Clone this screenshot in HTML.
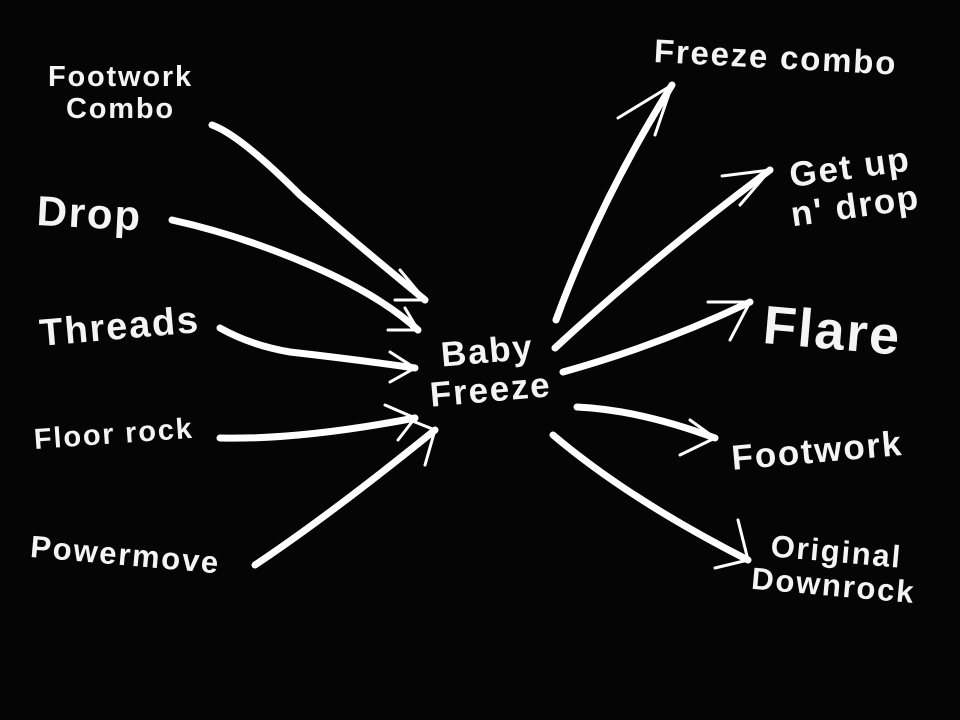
<!DOCTYPE html>
<html><head><meta charset="utf-8"><style>
html,body{margin:0;padding:0;background:#000;}
#c{position:relative;width:960px;height:720px;background:#050505;overflow:hidden;font-family:"Liberation Sans","DejaVu Sans",sans-serif;color:#f4f4f4;font-weight:bold;letter-spacing:1.8px;}
.t{position:absolute;white-space:nowrap;text-align:center;line-height:1.1;transform-origin:0 0;}
svg{position:absolute;left:0;top:0;}
</style></head><body><div id="c">
<svg width="960" height="720" fill="none" stroke="#fff" stroke-linecap="round" stroke-linejoin="round">
<g stroke-width="7">
<path d="M212 125 Q240 135 300 195 Q370 255 425 300"/>
<path d="M172 220 Q240 235 310 265 Q380 295 418 330"/>
<path d="M220 328 Q250 345 290 352 Q360 360 415 368"/>
<path d="M220 438 Q300 440 415 418"/>
<path d="M255 565 Q330 515 435 430"/>
<path d="M556 320 Q600 200 672 85"/>
<path d="M555 348 Q650 260 770 170"/>
<path d="M563 372 Q660 345 750 302"/>
<path d="M577 407 Q640 410 715 438"/>
<path d="M553 435 Q630 500 748 560"/>
</g>
<g stroke-width="3">
<path d="M395 300 L425 300 L400 270"/>
<path d="M388 330 L418 330 L405 308"/>
<path d="M390 352 L415 368 L390 382"/>
<path d="M385 405 L415 418 L398 440"/>
<path d="M410 420 L435 430 L425 465"/>
<path d="M618 118 L672 85 L655 135"/>
<path d="M722 176 L770 170 L740 205"/>
<path d="M708 302 L750 302 L730 340"/>
<path d="M690 420 L715 438 L680 455"/>
<path d="M738 520 L748 560 L715 568"/>
</g>
</svg>
<div class="t" style="left:48px;top:62px;font-size:29px;">Footwork<br>Combo</div>
<div class="t" style="left:38px;top:188px;font-size:42px;transform:rotate(3deg);">Drop</div>
<div class="t" style="left:38px;top:314px;font-size:38px;transform:rotate(-5deg);">Threads</div>
<div class="t" style="left:33px;top:425px;font-size:29px;transform:rotate(-4deg);">Floor rock</div>
<div class="t" style="left:32px;top:530px;font-size:31px;transform:rotate(5deg);">Powermove</div>
<div class="t" style="left:425px;top:338px;font-size:35px;transform:rotate(-5deg);">Baby<br>Freeze</div>
<div class="t" style="left:655px;top:33px;font-size:33px;transform:rotate(3deg);">Freeze combo</div>
<div class="t" style="left:783px;top:158px;font-size:35px;transform:rotate(-8deg);">Get up<br>n' drop</div>
<div class="t" style="left:766px;top:296px;font-size:54px;transform:rotate(5deg);">Flare</div>
<div class="t" style="left:730px;top:440px;font-size:35px;transform:rotate(-5deg);">Footwork</div>
<div class="t" style="left:756px;top:528px;font-size:31px;transform:rotate(5deg);">Original<br>Downrock</div>
</div></body></html>
